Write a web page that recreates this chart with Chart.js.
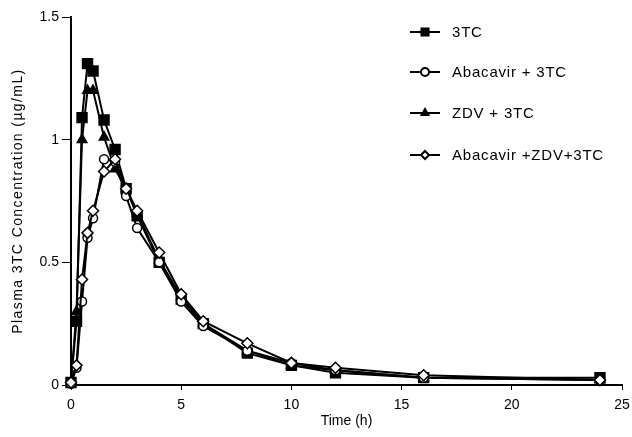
<!DOCTYPE html>
<html>
<head>
<meta charset="utf-8">
<script src="https://cdn.jsdelivr.net/npm/chart.js@4/dist/chart.umd.min.js"></script>
<style>
  html, body { margin: 0; padding: 0; background: #fff; }
  #wrap { width: 632px; height: 437px; position: relative; }
</style>
</head>
<body>
<div id="wrap"><canvas id="pk"></canvas></div>
<script>
// sampling times (h)
var times = [0, 0.25, 0.5, 0.75, 1, 1.5, 2, 2.5, 3, 4, 5, 6, 8, 10, 12, 16, 24];

// plasma 3TC concentration (ug/mL)
var lamivudine    = [0.01, 0.26, 1.09, 1.31, 1.28, 1.08, 0.96, 0.80, 0.69, 0.50, 0.35, 0.25, 0.13, 0.08, 0.05, 0.03, 0.03];
var abacavirLam   = [0.005, 0.07, 0.34, 0.60, 0.68, 0.92, 0.91, 0.77, 0.64, 0.50, 0.34, 0.24, 0.14, 0.09, 0.06, 0.03, 0.02];
var zdvLam        = [0.01, 0.30, 1.00, 1.20, 1.20, 1.01, 0.88, 0.80, 0.70, 0.51, 0.36, 0.25, 0.14, 0.08, 0.06, 0.03, 0.02];
var abacavirZdvLam = [0.01, 0.08, 0.43, 0.62, 0.71, 0.87, 0.92, 0.80, 0.71, 0.54, 0.37, 0.26, 0.17, 0.09, 0.07, 0.04, 0.02];

var seriesNames = ['3TC', 'Abacavir + 3TC', 'ZDV + 3TC', 'Abacavir +ZDV+3TC'];
var yTitle = 'Plasma 3TC Concentration (µg/mL)';

var xTicks = [0, 5, 10, 15, 20, 25];
var yTicks = [0, 0.5, 1, 1.5];

var fontFamily = '"Liberation Sans", Arial, sans-serif';

function pts(vals) {
  return times.map(function(t, i) { return { x: t, y: vals[i] }; });
}

function makeSet(label, vals, style, fill, radius, order) {
  return {
    label: label,
    data: pts(vals),
    borderColor: '#000',
    borderWidth: 2,
    backgroundColor: fill,
    pointStyle: style,
    pointRadius: radius,
    pointBorderWidth: 1.5,
    pointBorderColor: '#000',
    pointBackgroundColor: fill,
    tension: 0,
    clip: false,
    order: order
  };
}

// legend top right + the spaced-out y title, like the original figure
var extras = {
  id: 'extras',
  afterDraw: function(chart) {
    var ctx = chart.ctx;
    var rows = [32, 72, 113, 155];
    ctx.save();
    chart.data.datasets.forEach(function(ds, i) {
      var y = rows[i];
      ctx.strokeStyle = '#000';
      ctx.lineWidth = 2;
      ctx.beginPath();
      ctx.moveTo(410, y);
      ctx.lineTo(440, y);
      ctx.stroke();
      ctx.fillStyle = ds.pointBackgroundColor;
      Chart.helpers.drawPoint(ctx, {
        pointStyle: ds.pointStyle,
        radius: ds.pointStyle === 'rect' ? 5 : 4,
        rotation: 0,
        borderWidth: 1.2
      }, 425, y);
      ctx.fillStyle = '#000';
      ctx.font = '15px ' + fontFamily;
      if ('letterSpacing' in ctx) ctx.letterSpacing = '0.8px';
      ctx.textBaseline = 'middle';
      ctx.textAlign = 'left';
      ctx.fillText(ds.label, 452, y + 1);
      if ('letterSpacing' in ctx) ctx.letterSpacing = '0px';
    });
    ctx.restore();

    ctx.save();
    ctx.translate(18, 201);
    ctx.rotate(-Math.PI / 2);
    ctx.fillStyle = '#000';
    ctx.font = '14px ' + fontFamily;
    if ('letterSpacing' in ctx) ctx.letterSpacing = '1.4px';
    ctx.textAlign = 'center';
    ctx.textBaseline = 'middle';
    ctx.fillText(yTitle, 0, 0);
    ctx.restore();
  }
};

var tickFont = { family: fontFamily, size: 14 };

new Chart(document.getElementById('pk'), {
  type: 'line',
  data: {
    datasets: [
      makeSet(seriesNames[0], lamivudine, 'rect', '#000', 7, 3),
      makeSet(seriesNames[1], abacavirLam, 'circle', '#fff', 4.5, 1),
      makeSet(seriesNames[2], zdvLam, 'triangle', '#000', 5.5, 2),
      makeSet(seriesNames[3], abacavirZdvLam, 'rectRot', '#fff', 5.5, 0)
    ]
  },
  options: {
    responsive: true,
    maintainAspectRatio: false,
    animation: false,
    layout: { padding: { top: 17, right: 10, left: 0, bottom: 0 } },
    plugins: {
      legend: { display: false },
      tooltip: { enabled: false }
    },
    scales: {
      x: {
        type: 'linear',
        min: 0,
        max: 25,
        afterBuildTicks: function(s) { s.ticks = xTicks.map(function(v) { return { value: v }; }); },
        afterFit: function(s) { s.height = 52; s.paddingRight = 0; s.paddingLeft = 0; },
        ticks: { color: '#000', font: tickFont, padding: 7, maxRotation: 0,
                 callback: function(v) { return String(v); } },
        grid: { display: true, drawOnChartArea: false, tickLength: 5, color: '#000', tickWidth: 1 },
        border: { display: true, color: '#000', width: 2 },
        title: { display: true, text: 'Time (h)', color: '#000', font: tickFont, padding: { top: 0, bottom: 7 } }
      },
      y: {
        min: 0,
        max: 1.5,
        afterBuildTicks: function(s) { s.ticks = yTicks.map(function(v) { return { value: v }; }); },
        afterFit: function(s) { s.width = 71; },
        ticks: { color: '#000', font: tickFont, padding: 3,
                 callback: function(v) { return String(v); } },
        grid: { display: true, drawOnChartArea: false, tickLength: 9, color: '#000', tickWidth: 1 },
        border: { display: true, color: '#000', width: 2 }
      }
    }
  },
  plugins: [extras]
});
</script>
</body>
</html>
